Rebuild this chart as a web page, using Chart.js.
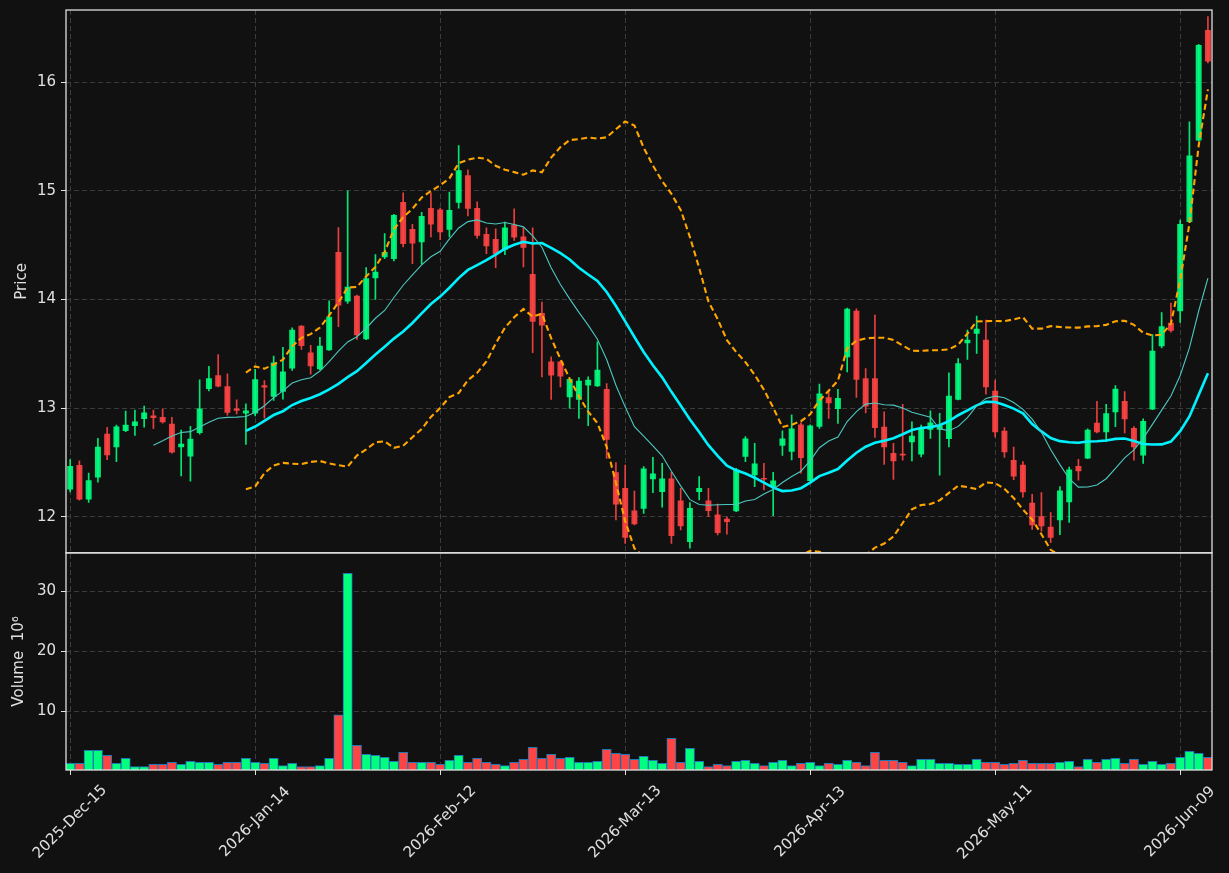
<!DOCTYPE html>
<html>
<head>
<meta charset="utf-8">
<script src="https://cdn.jsdelivr.net/npm/chart.js@4.4.1/dist/chart.umd.min.js"></script>
<style>
  html, body { margin: 0; padding: 0; background: #111111; }
  #wrap { width: 1229px; height: 873px; }
</style>
</head>
<body>
<div id="wrap"><canvas id="chart" width="1229" height="873"></canvas></div>
<script>
// daily OHLC + volume (millions), index 0 = 2025-12-15
const opens = [
  12.254, 12.474, 12.161, 12.365, 12.762, 12.644, 12.793, 12.839, 12.904, 12.929,
  12.916, 12.854, 12.644, 12.557, 12.774, 13.180, 13.300, 13.198, 12.994, 12.954,
  12.954, 13.207, 13.107, 13.153, 13.367, 13.755, 13.508, 13.361, 13.535, 14.434,
  13.985, 14.031, 13.636, 14.199, 14.391, 14.376, 14.893, 14.645, 14.529, 14.838,
  14.826, 14.645, 14.893, 15.141, 14.838, 14.599, 14.553, 14.461, 14.685, 14.577,
  14.231, 13.873, 13.426, 13.426, 13.104, 13.080, 13.211, 13.205, 13.174, 12.406,
  12.262, 12.054, 12.078, 12.349, 12.232, 12.349, 12.146, 11.771, 12.232, 12.146,
  12.017, 11.980, 12.054, 12.555, 12.386, 12.355, 12.278, 12.656, 12.601, 12.846,
  12.333, 12.831, 13.098, 12.994, 13.472, 13.893, 13.273, 13.273, 12.825, 12.583,
  12.577, 12.690, 12.577, 12.804, 12.804, 12.718, 13.080, 13.601, 13.687, 13.626,
  13.156, 12.788, 12.520, 12.475, 12.126, 12.003, 11.906, 11.971, 12.136, 12.465,
  12.539, 12.862, 12.781, 12.965, 13.062, 12.814, 12.568, 12.991, 13.572, 13.782,
  13.895, 14.715, 15.467, 16.478
];
const highs = [
  12.526, 12.514, 12.402, 12.721, 12.824, 12.845, 12.972, 12.981, 13.019, 12.981,
  12.991, 12.916, 12.799, 12.833, 13.260, 13.384, 13.492, 13.316, 13.077, 13.040,
  13.356, 13.254, 13.480, 13.560, 13.740, 13.760, 13.578, 13.651, 13.988, 14.661,
  15.000, 14.040, 14.294, 14.413, 14.606, 14.783, 14.982, 14.691, 14.801, 14.982,
  14.840, 14.988, 15.417, 15.193, 14.899, 14.660, 14.651, 14.712, 14.835, 14.660,
  14.660, 13.977, 13.472, 13.430, 13.270, 13.282, 13.288, 13.609, 13.227, 12.498,
  12.476, 12.237, 12.462, 12.548, 12.493, 12.410, 12.263, 12.131, 12.370, 12.263,
  12.118, 12.000, 12.447, 12.739, 12.677, 12.493, 12.410, 12.791, 12.939, 12.868,
  12.846, 13.221, 13.150, 13.172, 13.920, 13.914, 13.365, 13.856, 12.966, 12.675,
  13.034, 12.874, 12.844, 12.975, 12.951, 13.325, 13.457, 13.718, 13.847, 13.810,
  13.258, 12.822, 12.642, 12.507, 12.207, 12.223, 12.039, 12.278, 12.458, 12.529,
  12.810, 13.062, 13.036, 13.207, 13.153, 12.830, 12.901, 13.676, 13.879, 13.966,
  14.731, 15.635, 16.349, 16.604
];
const lows = [
  12.229, 12.152, 12.133, 12.319, 12.526, 12.508, 12.783, 12.749, 12.824, 12.811,
  12.861, 12.585, 12.375, 12.328, 12.760, 13.158, 13.195, 12.935, 12.947, 12.666,
  12.929, 12.907, 13.070, 13.083, 13.346, 13.541, 13.312, 13.352, 13.530, 13.749,
  13.963, 13.633, 13.630, 14.000, 14.376, 14.355, 14.483, 14.330, 14.324, 14.575,
  14.550, 14.575, 14.841, 14.770, 14.565, 14.421, 14.292, 14.412, 14.544, 14.299,
  13.511, 13.288, 13.080, 13.196, 12.997, 12.905, 12.838, 13.200, 12.537, 11.971,
  11.756, 11.925, 12.032, 12.223, 12.088, 11.756, 11.879, 11.710, 12.155, 12.000,
  11.833, 11.839, 12.048, 12.508, 12.278, 12.247, 12.011, 12.564, 12.524, 12.401,
  12.330, 12.813, 12.905, 12.859, 13.334, 13.098, 12.957, 12.730, 12.482, 12.344,
  12.521, 12.515, 12.552, 12.721, 12.383, 12.644, 13.075, 13.448, 13.503, 13.129,
  12.736, 12.546, 12.342, 12.181, 11.884, 11.868, 11.761, 11.835, 11.948, 12.336,
  12.535, 12.772, 12.691, 12.830, 12.772, 12.520, 12.491, 12.985, 13.553, 13.698,
  13.789, 14.710, 15.460, 16.178
];
const closes = [
  12.464, 12.161, 12.334, 12.641, 12.570, 12.827, 12.845, 12.873, 12.957, 12.913,
  12.873, 12.594, 12.669, 12.715, 12.994, 13.272, 13.201, 12.960, 12.978, 12.975,
  13.263, 13.192, 13.416, 13.333, 13.719, 13.575, 13.388, 13.572, 13.838, 13.948,
  14.113, 13.673, 14.193, 14.251, 14.434, 14.774, 14.514, 14.517, 14.765, 14.694,
  14.621, 14.820, 15.187, 14.838, 14.590, 14.492, 14.421, 14.660, 14.574, 14.479,
  13.799, 13.763, 13.303, 13.294, 13.266, 13.248, 13.257, 13.349, 12.712, 12.115,
  11.810, 11.934, 12.441, 12.395, 12.349, 11.826, 11.915, 12.078, 12.263, 12.057,
  11.854, 11.955, 12.432, 12.717, 12.487, 12.346, 12.330, 12.717, 12.809, 12.545,
  12.837, 13.132, 13.049, 13.089, 13.911, 13.264, 13.018, 12.819, 12.644, 12.515,
  12.567, 12.742, 12.813, 12.865, 12.834, 13.110, 13.411, 13.626, 13.727, 13.196,
  12.782, 12.598, 12.374, 12.229, 11.926, 11.916, 11.810, 12.239, 12.433, 12.423,
  12.797, 12.781, 12.949, 13.175, 12.901, 12.642, 12.878, 13.524, 13.750, 13.714,
  14.692, 15.322, 16.339, 16.194
];
const volumes = [
  1.33, 1.33, 3.50, 3.50, 2.67, 1.33, 2.17, 0.78, 0.78, 1.17,
  1.17, 1.50, 1.17, 1.67, 1.50, 1.50, 1.17, 1.50, 1.50, 2.17,
  1.50, 1.33, 2.17, 0.94, 1.33, 0.78, 0.78, 0.94, 2.17, 9.40,
  33.0, 4.33, 2.83, 2.67, 2.33, 1.67, 3.17, 1.50, 1.50, 1.50,
  1.17, 1.83, 2.67, 1.50, 2.17, 1.50, 1.17, 0.94, 1.50, 2.00,
  4.00, 2.17, 2.83, 2.17, 2.33, 1.50, 1.50, 1.67, 3.67, 3.00,
  2.83, 2.00, 2.50, 1.83, 1.33, 5.50, 1.50, 3.83, 1.67, 0.78,
  1.17, 0.94, 1.67, 1.83, 1.33, 0.94, 1.50, 1.83, 0.94, 1.33,
  1.50, 0.94, 1.33, 1.17, 1.83, 1.50, 0.94, 3.17, 1.83, 1.83,
  1.50, 0.94, 2.00, 2.00, 1.33, 1.33, 1.17, 1.17, 2.00, 1.50,
  1.50, 1.17, 1.33, 1.83, 1.33, 1.33, 1.33, 1.50, 1.67, 0.78,
  2.00, 1.50, 2.00, 2.17, 1.33, 2.00, 1.17, 1.67, 1.17, 1.33,
  2.33, 3.33, 3.00, 2.33
];

const tickIdx = [0, 20, 40, 60, 80, 100, 120];
const tickLabels = ['2025-Dec-15', '2026-Jan-14', '2026-Feb-12', '2026-Mar-13', '2026-Apr-13', '2026-May-11', '2026-Jun-09'];
const priceTicks = [12, 13, 14, 15, 16];
const volTicks = [10, 20, 30];

// indicators derived from the closes: 10 / 20 day averages and 20 day, 2 sigma bands
function sma(src, n) {
  return src.map((v, i) => {
    if (i < n - 1) return null;
    let s = 0;
    for (let k = i - n + 1; k <= i; k++) s += src[k];
    return s / n;
  });
}
function bands(src, n, mult) {
  const mid = sma(src, n);
  const upper = [], lower = [];
  src.forEach((v, i) => {
    if (mid[i] === null) { upper.push(null); lower.push(null); return; }
    let ss = 0;
    for (let k = i - n + 1; k <= i; k++) ss += (src[k] - mid[i]) ** 2;
    const sd = Math.sqrt(ss / n);
    upper.push(mid[i] + mult * sd);
    lower.push(mid[i] - mult * sd);
  });
  return { upper, lower };
}

const ma10 = sma(closes, 10);
const ma20 = sma(closes, 20);
const bb = bands(closes, 20, 2);

const idx = closes.map((c, i) => i);
const up = closes.map((c, i) => c >= opens[i]);
const candleColors = up.map(u => u ? 'rgba(0,255,127,0.9)' : 'rgba(255,68,68,0.9)');
const volColors = up.map(u => u ? '#00ff7f' : '#ff4444');
const toPts = arr => arr.map((v, i) => ({ x: i, y: v }));

const TXT = '#e0e0e0';
const GRID = '#3c3c3c';
const FS = 15;
Chart.defaults.font.family = 'DejaVu Sans';

const gridOpts = {
  color: GRID, lineWidth: 1, offset: false, drawTicks: true, tickLength: 5,
  tickColor: TXT, tickWidth: 1, tickBorderDash: []
};

// fixed axis sizes, no extra label padding
function fitY(s) {
  s.width = 66;
  s.paddingTop = 0;
  s.paddingBottom = 0;
}

const panelPlugin = {
  id: 'panels',
  beforeDraw(chart) {
    const ctx = chart.ctx;
    ctx.save();
    ctx.fillStyle = '#111111';
    ctx.fillRect(0, 0, chart.width, chart.height);
    ctx.restore();
  },
  beforeDatasetDraw(chart, args) {
    const ys = args.meta.yScale;
    const a = chart.chartArea;
    chart.ctx.save();
    chart.ctx.beginPath();
    chart.ctx.rect(a.left, ys.top, a.right - a.left, ys.bottom - ys.top);
    chart.ctx.clip();
  },
  afterDatasetDraw(chart) {
    chart.ctx.restore();
  },
  afterDraw(chart) {
    const ctx = chart.ctx;
    const a = chart.chartArea;
    ctx.save();
    ctx.strokeStyle = '#e6e6e6';
    ctx.lineWidth = 1.25;
    [chart.scales.y, chart.scales.yv].forEach(s => {
      ctx.strokeRect(a.left, s.top, a.right - a.left, s.bottom - s.top);
    });
    // rotated date labels, centred on their ticks
    ctx.fillStyle = TXT;
    ctx.font = FS + 'px "DejaVu Sans"';
    ctx.textAlign = 'center';
    ctx.textBaseline = 'middle';
    tickIdx.forEach((v, k) => {
      const px = chart.scales.x.getPixelForValue(v);
      ctx.save();
      ctx.translate(px, a.bottom + 52);
      ctx.rotate(-Math.PI / 4);
      ctx.fillText(tickLabels[k], 0, 0);
      ctx.restore();
    });
    ctx.restore();
  }
};

new Chart(document.getElementById('chart'), {
  data: {
    datasets: [
      { type: 'line', label: 'MA10', data: toPts(ma10), yAxisID: 'y', borderColor: '#4cc8c0', borderWidth: 1.1, pointRadius: 0, order: 1 },
      { type: 'line', label: 'MA20', data: toPts(ma20), yAxisID: 'y', borderColor: '#00f2ff', borderWidth: 2.6, pointRadius: 0, order: 1 },
      { type: 'line', label: 'BB upper', data: toPts(bb.upper), yAxisID: 'y', borderColor: '#ffa500', borderWidth: 2.1, borderDash: [6, 3.5], pointRadius: 0, order: 2 },
      { type: 'line', label: 'BB lower', data: toPts(bb.lower), yAxisID: 'y', borderColor: '#ffa500', borderWidth: 2.1, borderDash: [6, 3.5], pointRadius: 0, order: 2 },
      { type: 'bar', label: 'Body', data: idx.map(i => ({ x: i, y: [opens[i], closes[i]] })), yAxisID: 'y', backgroundColor: candleColors, barThickness: 5.3, grouped: false, order: 3 },
      { type: 'bar', label: 'Wick', data: idx.map(i => ({ x: i, y: [lows[i], highs[i]] })), yAxisID: 'y', backgroundColor: candleColors, barThickness: 1, grouped: false, order: 4 },
      { type: 'bar', label: 'Volume', data: idx.map(i => ({ x: i, y: volumes[i] })), yAxisID: 'yv', backgroundColor: volColors, borderColor: '#1f77b4', borderWidth: 1, barThickness: 9.25, grouped: false, order: 5 }
    ]
  },
  options: {
    responsive: false,
    animation: false,
    layout: { padding: { left: 0, right: 17, top: 10, bottom: 0 } },
    plugins: { legend: { display: false }, tooltip: { enabled: false } },
    scales: {
      x: {
        type: 'linear', min: -0.45, max: 123.44, offset: false,
        afterBuildTicks: s => { s.ticks = tickIdx.map(v => ({ value: v })); },
        afterFit: s => { s.height = 103; s.paddingLeft = 0; s.paddingRight = 0; },
        ticks: { display: false },
        grid: gridOpts,
        border: { display: false, dash: [5, 3] }
      },
      y: {
        type: 'linear', position: 'left', stack: 'panels', stackWeight: 2.5, weight: 2,
        min: 11.668, max: 16.664,
        afterBuildTicks: s => { s.ticks = priceTicks.map(v => ({ value: v })); },
        afterFit: fitY,
        ticks: { color: TXT, font: { size: FS }, padding: 5 },
        grid: gridOpts,
        border: { display: false, dash: [5, 3] },
        title: { display: true, text: 'Price', color: TXT, font: { size: FS }, padding: { top: 13, bottom: 0 } }
      },
      yv: {
        type: 'linear', position: 'left', stack: 'panels', stackWeight: 1, weight: 1,
        min: 0.22, max: 36.4,
        afterBuildTicks: s => { s.ticks = volTicks.map(v => ({ value: v })); },
        afterFit: fitY,
        ticks: { color: TXT, font: { size: FS }, padding: 5 },
        grid: gridOpts,
        border: { display: false, dash: [5, 3] },
        title: { display: true, text: 'Volume  10\u2076', color: TXT, font: { size: FS }, padding: { top: 10, bottom: 0 } }
      }
    }
  },
  plugins: [panelPlugin]
});
</script>
</body>
</html>
